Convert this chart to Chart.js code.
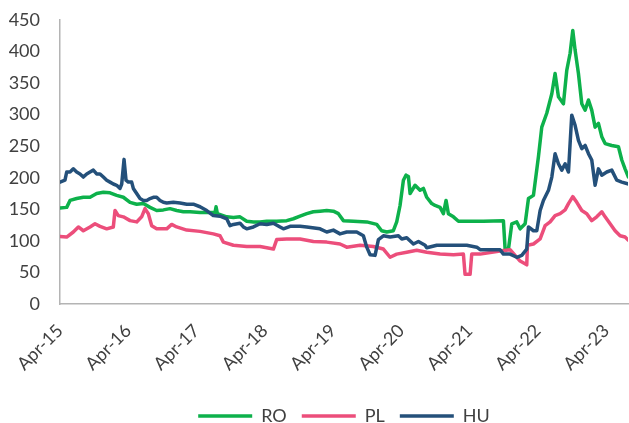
<!DOCTYPE html>
<html>
<head>
<meta charset="utf-8">
<script src="https://cdn.jsdelivr.net/npm/chart.js@4.4.0/dist/chart.umd.min.js"></script>
<style>
  body { margin: 0; background: #fff; }
  #spread_chart { display: block; }
</style>
</head>
<body>
<canvas id="spread_chart" width="629" height="423"></canvas>
<script>
// x values are decimal years (Apr-15 = 2015.25)
var seriesNames = ['RO', 'PL', 'HU'];
var tickYears = [2015.25, 2016.25, 2017.25, 2018.25, 2019.25, 2020.25, 2021.25, 2022.25, 2023.25];
var tickLabels = ['Apr-15', 'Apr-16', 'Apr-17', 'Apr-18', 'Apr-19', 'Apr-20', 'Apr-21', 'Apr-22', 'Apr-23'];

var roDates = [2015.250, 2015.348, 2015.397, 2015.494, 2015.592, 2015.690, 2015.787, 2015.885, 2015.983, 2016.080,
  2016.178, 2016.276, 2016.373, 2016.471, 2016.569, 2016.666, 2016.764, 2016.861, 2016.959, 2017.057,
  2017.154, 2017.301, 2017.447, 2017.521, 2017.536, 2017.555, 2017.692, 2017.790, 2017.887, 2017.985,
  2018.083, 2018.180, 2018.278, 2018.424, 2018.571, 2018.669, 2018.766, 2018.864, 2018.961, 2019.059,
  2019.157, 2019.254, 2019.328, 2019.401, 2019.548, 2019.743, 2019.889, 2019.962, 2020.036, 2020.133,
  2020.182, 2020.231, 2020.280, 2020.319, 2020.353, 2020.378, 2020.451, 2020.524, 2020.573, 2020.622,
  2020.695, 2020.744, 2020.817, 2020.866, 2020.905, 2020.939, 2021.013, 2021.086, 2021.208, 2021.452,
  2021.745, 2021.770, 2021.819, 2021.868, 2021.941, 2021.990, 2022.063, 2022.112, 2022.185, 2022.258,
  2022.307, 2022.380, 2022.454, 2022.502, 2022.551, 2022.624, 2022.673, 2022.722, 2022.761, 2022.795,
  2022.844, 2022.893, 2022.942, 2022.991, 2023.039, 2023.088, 2023.137, 2023.186, 2023.235, 2023.332,
  2023.430, 2023.479, 2023.527, 2023.576];
var roValues = [152, 153, 164, 167, 169, 169, 175, 177, 176, 172,
  169, 161, 158, 159, 153, 148, 149, 151, 148, 146,
  146, 145, 145, 145, 154, 143, 138, 137, 138, 131,
  130, 130, 131, 131, 132, 135, 139, 143, 146, 147,
  148, 147, 143, 132, 131, 130, 126, 116, 114, 116,
  130, 156, 196, 204, 202, 175, 188, 180, 183, 169,
  159, 156, 153, 143, 164, 143, 138, 131, 131, 131,
  132, 87, 87, 127, 130, 119, 127, 167, 172, 233,
  280, 302, 333, 365, 328, 317, 370, 397, 433, 402,
  365, 317, 307, 323, 307, 280, 286, 265, 254, 251,
  249, 228, 214, 201];

var plDates = [2015.250, 2015.348, 2015.445, 2015.519, 2015.592, 2015.690, 2015.763, 2015.836, 2015.934, 2016.031,
  2016.056, 2016.104, 2016.178, 2016.276, 2016.373, 2016.446, 2016.495, 2016.544, 2016.593, 2016.666,
  2016.813, 2016.886, 2016.959, 2017.106, 2017.301, 2017.496, 2017.594, 2017.643, 2017.790, 2017.985,
  2018.180, 2018.278, 2018.376, 2018.424, 2018.571, 2018.766, 2018.961, 2019.157, 2019.352, 2019.450,
  2019.645, 2019.840, 2019.987, 2020.085, 2020.182, 2020.329, 2020.475, 2020.622, 2020.817, 2021.013,
  2021.159, 2021.183, 2021.257, 2021.281, 2021.404, 2021.696, 2021.843, 2021.916, 2021.990, 2022.087,
  2022.097, 2022.185, 2022.283, 2022.356, 2022.429, 2022.502, 2022.576, 2022.649, 2022.698, 2022.761,
  2022.820, 2022.893, 2022.966, 2023.039, 2023.112, 2023.186, 2023.235, 2023.308, 2023.381, 2023.454,
  2023.527, 2023.576];
var plValues = [107, 106, 114, 122, 116, 122, 127, 123, 119, 122,
  148, 140, 138, 132, 130, 138, 151, 143, 124, 119,
  119, 126, 122, 117, 115, 111, 108, 98, 93, 91,
  91, 89, 87, 102, 103, 103, 99, 98, 95, 90,
  93, 91, 87, 74, 79, 82, 85, 82, 79, 78,
  79, 47, 47, 79, 79, 84, 86, 77, 68, 62,
  93, 95, 103, 124, 130, 140, 143, 149, 159, 170,
  161, 148, 143, 132, 138, 146, 138, 127, 116, 108,
  106, 101];

var huDates = [2015.250, 2015.323, 2015.348, 2015.397, 2015.445, 2015.494, 2015.543, 2015.592, 2015.641, 2015.690,
  2015.738, 2015.787, 2015.836, 2015.885, 2015.934, 2015.983, 2016.031, 2016.080, 2016.129, 2016.154,
  2016.188, 2016.217, 2016.251, 2016.300, 2016.324, 2016.373, 2016.422, 2016.471, 2016.520, 2016.569,
  2016.617, 2016.666, 2016.715, 2016.764, 2016.813, 2016.910, 2017.008, 2017.106, 2017.203, 2017.301,
  2017.399, 2017.496, 2017.594, 2017.692, 2017.741, 2017.790, 2017.887, 2017.936, 2017.985, 2018.083,
  2018.180, 2018.278, 2018.376, 2018.473, 2018.522, 2018.620, 2018.766, 2018.864, 2019.059, 2019.157,
  2019.254, 2019.352, 2019.450, 2019.596, 2019.694, 2019.743, 2019.792, 2019.865, 2019.914, 2019.987,
  2020.085, 2020.207, 2020.256, 2020.329, 2020.427, 2020.500, 2020.598, 2020.622, 2020.769, 2020.964,
  2021.208, 2021.355, 2021.404, 2021.696, 2021.745, 2021.843, 2021.941, 2022.014, 2022.087, 2022.112,
  2022.185, 2022.234, 2022.283, 2022.331, 2022.405, 2022.454, 2022.502, 2022.551, 2022.600, 2022.649,
  2022.698, 2022.746, 2022.795, 2022.844, 2022.893, 2022.942, 2022.991, 2023.039, 2023.088, 2023.137,
  2023.186, 2023.259, 2023.332, 2023.406, 2023.479, 2023.576];
var huValues = [193, 196, 209, 209, 214, 209, 206, 201, 206, 209,
  212, 206, 206, 201, 196, 193, 190, 188, 183, 190,
  229, 196, 193, 193, 183, 175, 167, 164, 164, 167,
  169, 169, 164, 161, 160, 161, 160, 158, 158, 154,
  148, 140, 139, 135, 124, 126, 128, 122, 119, 122,
  127, 126, 128, 122, 119, 123, 123, 122, 119, 114,
  117, 111, 114, 114, 108, 90, 78, 77, 102, 108,
  106, 108, 103, 105, 95, 99, 93, 89, 93, 93,
  93, 90, 86, 86, 79, 79, 74, 77, 87, 122,
  116, 116, 148, 164, 180, 201, 238, 222, 212, 222,
  209, 299, 283, 259, 246, 251, 238, 228, 188, 214,
  204, 209, 212, 196, 193, 190];

function to_points(dates, values){
	var pts = [];
	for(var i=0; i<dates.length; i++){
		pts.push({x: dates[i], y: values[i]});
	}
	return pts;
}

function make_dataset(name, dates, values, colour, order){
	var ds = {};
	ds.label = name;
	ds.data = to_points(dates, values);
	ds.borderColor = colour;
	ds.backgroundColor = colour;
	ds.borderWidth = 3.5;
	ds.borderCapStyle = 'round';
	ds.borderJoinStyle = 'round';
	ds.pointRadius = 0;
	ds.tension = 0;
	ds.fill = false;
	ds.order = order;
	return ds;
}

function draw_chart(){
	var ctx = document.getElementById('spread_chart').getContext('2d');
	var font = {family: 'Lato', size: 18};
	var textColour = '#404040';
	var axisColour = '#b4b4b4';

	var data = {datasets: []};
	data.datasets.push(make_dataset(seriesNames[0], roDates, roValues, '#0db14b', 2));
	data.datasets.push(make_dataset(seriesNames[1], plDates, plValues, '#ec4e7b', 1));
	data.datasets.push(make_dataset(seriesNames[2], huDates, huValues, '#24507a', 0));

	// tick gaps are given as hidden tick length so they do not add to the plot padding
	var opts = {
		responsive: false,
		animation: false,
		layout: {padding: {top: 0, right: 1, left: 0, bottom: 0}},
		scales: {
			x: {
				type: 'linear',
				min: 2015.25,
				max: 2023.57,
				grid: {display: false, drawTicks: true, tickLength: 16},
				border: {display: true, color: axisColour, width: 1.5},
				ticks: {
					font: font, color: textColour, padding: 0,
					minRotation: 45, maxRotation: 45, autoSkip: false,
					callback: function(v){ return tickLabels[tickYears.indexOf(v)]; }
				},
				afterBuildTicks: function(s){
					s.ticks = tickYears.map(function(v){ return {value: v}; });
				},
				afterFit: function(s){ s.height = 88; }
			},
			y: {
				min: 0,
				max: 450,
				grid: {display: false, drawTicks: true, tickLength: 11},
				border: {display: true, color: axisColour, width: 1.5},
				ticks: {stepSize: 50, font: font, color: textColour, padding: 9},
				afterFit: function(s){ s.width = 60; }
			}
		},
		plugins: {
			tooltip: {enabled: false},
			legend: {
				position: 'bottom',
				fullSize: false,
				maxHeight: 31,
				labels: {
					usePointStyle: true,
					pointStyle: 'line',
					pointStyleWidth: 54,
					padding: 15,
					font: font,
					color: textColour,
					sort: function(a, b){ return a.datasetIndex - b.datasetIndex; }
				}
			}
		}
	};

	var chart = new Chart(ctx, {type: 'line', data: data, options: opts});
}

draw_chart();
</script>
</body>
</html>
